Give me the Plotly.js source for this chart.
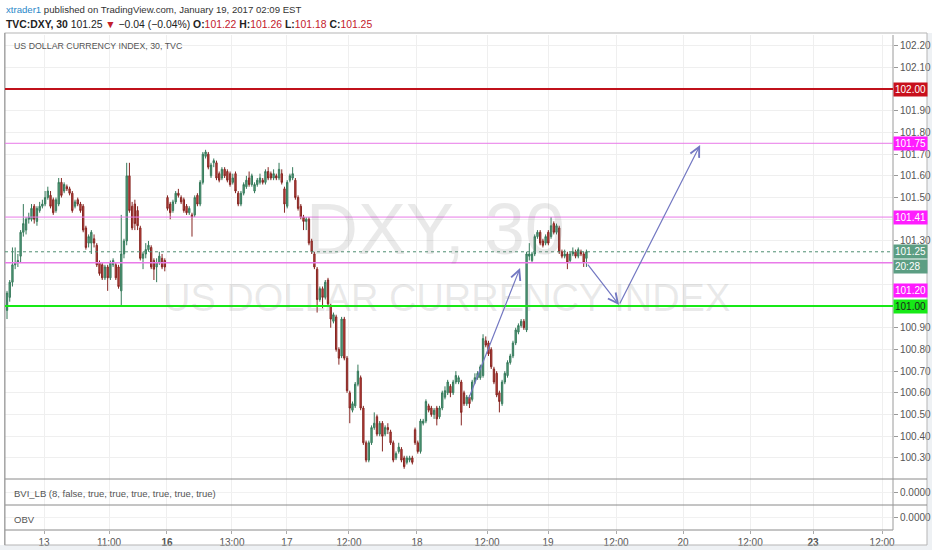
<!DOCTYPE html>
<html><head><meta charset="utf-8">
<script src="https://cdn.plot.ly/plotly-3.0.1.min.js"></script>
<style>html,body{margin:0;padding:0;background:#fff;}#chart{width:932px;height:550px;}</style>
</head><body><div id="chart"></div>
<script>
// ---- data ----
const barOpen = [100.98,101.04,101.11,101.19,101.20,101.23,101.34,101.35,101.40,101.40,
101.46,101.39,101.44,101.46,101.47,101.50,101.51,101.49,101.44,101.47,
101.57,101.53,101.55,101.54,101.52,101.46,101.49,101.47,101.46,101.36,
101.29,101.29,101.31,101.28,101.20,101.19,101.13,101.18,101.13,101.19,
101.19,101.18,101.07,101.24,101.30,101.60,101.46,101.47,101.44,101.36,
101.22,101.24,101.26,101.27,101.21,101.18,101.20,101.22,101.21,101.50,
101.47,101.44,101.48,101.52,101.50,101.49,101.46,101.43,101.42,101.42,
101.51,101.47,101.57,101.69,101.70,101.60,101.66,101.66,101.61,101.59,
101.63,101.62,101.61,101.57,101.61,101.52,101.47,101.52,101.55,101.59,
101.56,101.53,101.56,101.57,101.58,101.57,101.62,101.61,101.59,101.60,
101.59,101.61,101.54,101.46,101.58,101.59,101.58,101.50,101.46,101.41,
101.39,101.40,101.30,101.24,101.17,101.03,101.08,101.04,101.12,101.00,
100.93,100.95,100.80,100.77,100.94,100.76,100.60,100.52,100.54,100.64,
100.67,100.53,100.37,100.29,100.37,100.44,100.49,100.41,100.46,100.41,
100.44,100.42,100.37,100.30,100.33,100.34,100.30,100.28,100.29,100.30,
100.43,100.37,100.33,100.46,100.47,100.54,100.53,100.50,100.53,100.49,
100.53,100.58,100.60,100.63,100.60,100.65,100.65,100.65,100.60,100.55,
100.58,100.57,100.65,100.67,100.67,100.68,100.84,100.83,100.80,100.71,
100.69,100.60,100.55,100.65,100.68,100.74,100.77,100.83,100.88,100.91,
100.93,100.89,101.23,101.21,101.24,101.32,101.34,101.30,101.29,101.34,
101.32,101.38,101.34,101.36,101.25,101.23,101.24,101.21,101.24,101.25,
101.23,101.25,101.24,101.22];
const barHigh = [101.07,101.12,101.27,101.27,101.24,101.35,101.47,101.41,101.43,101.47,
101.47,101.46,101.48,101.49,101.53,101.55,101.53,101.50,101.50,101.59,
101.59,101.57,101.56,101.55,101.53,101.49,101.50,101.48,101.47,101.37,
101.33,101.35,101.33,101.29,101.21,101.20,101.19,101.19,101.21,101.22,
101.20,101.19,101.42,101.31,101.66,101.66,101.48,101.49,101.46,101.37,
101.25,101.29,101.30,101.28,101.22,101.22,101.25,101.24,101.22,101.51,
101.48,101.49,101.53,101.54,101.51,101.50,101.47,101.46,101.43,101.51,
101.52,101.58,101.71,101.72,101.71,101.66,101.68,101.67,101.62,101.64,
101.64,101.63,101.62,101.61,101.62,101.53,101.53,101.57,101.60,101.62,
101.61,101.57,101.59,101.61,101.59,101.63,101.64,101.62,101.63,101.61,
101.66,101.63,101.55,101.58,101.61,101.64,101.59,101.51,101.47,101.42,
101.41,101.41,101.31,101.25,101.18,101.09,101.09,101.12,101.13,101.01,
100.97,100.96,100.81,100.95,100.95,100.77,100.61,100.56,100.65,100.73,
100.68,100.54,100.38,100.38,100.45,100.51,100.50,100.47,100.47,100.45,
100.46,100.43,100.38,100.33,100.37,100.35,100.31,100.31,100.31,100.31,
100.44,100.38,100.48,100.48,100.57,100.55,100.54,100.53,100.54,100.54,
100.61,100.63,100.66,100.64,100.66,100.70,100.68,100.66,100.61,100.59,
100.59,100.66,100.69,100.70,100.73,100.87,100.86,100.84,100.81,100.72,
100.70,100.61,100.66,100.70,100.75,100.78,100.84,100.90,100.92,100.94,
100.94,101.25,101.29,101.25,101.33,101.35,101.35,101.31,101.33,101.35,
101.41,101.39,101.38,101.37,101.26,101.26,101.25,101.25,101.27,101.26,
101.27,101.26,101.25,101.26];
const barLow = [100.94,101.02,101.09,101.17,101.18,101.20,101.32,101.33,101.38,101.39,
101.38,101.37,101.43,101.45,101.46,101.49,101.45,101.42,101.43,101.46,
101.50,101.52,101.53,101.51,101.43,101.45,101.46,101.43,101.34,101.26,
101.27,101.24,101.27,101.18,101.14,101.12,101.12,101.07,101.12,101.18,
101.12,101.08,101.00,101.22,101.28,101.43,101.35,101.35,101.35,101.21,
101.17,101.22,101.25,101.17,101.12,101.11,101.19,101.17,101.16,101.44,
101.40,101.43,101.47,101.50,101.47,101.43,101.42,101.42,101.32,101.41,
101.46,101.46,101.56,101.68,101.63,101.59,101.64,101.58,101.57,101.58,
101.59,101.57,101.55,101.56,101.52,101.46,101.46,101.51,101.54,101.55,
101.55,101.52,101.55,101.56,101.56,101.56,101.58,101.58,101.58,101.58,
101.58,101.56,101.43,101.45,101.57,101.58,101.49,101.44,101.40,101.35,
101.35,101.28,101.24,101.17,100.97,101.02,100.99,101.03,101.00,100.90,
100.92,100.79,100.73,100.76,100.75,100.60,100.46,100.51,100.53,100.63,
100.52,100.36,100.28,100.28,100.36,100.43,100.40,100.40,100.33,100.40,
100.41,100.36,100.28,100.29,100.32,100.28,100.25,100.27,100.28,100.27,
100.36,100.32,100.32,100.45,100.46,100.51,100.49,100.48,100.45,100.48,
100.52,100.57,100.59,100.58,100.59,100.64,100.64,100.45,100.54,100.54,
100.53,100.56,100.64,100.66,100.66,100.67,100.81,100.77,100.71,100.64,
100.58,100.51,100.54,100.64,100.67,100.73,100.76,100.82,100.87,100.90,
100.89,100.88,101.21,101.20,101.23,101.31,101.28,101.27,101.28,101.28,
101.31,101.33,101.33,101.24,101.22,101.22,101.17,101.20,101.23,101.22,
101.22,101.23,101.18,101.18];
const barClose = [101.06,101.11,101.19,101.20,101.21,101.34,101.38,101.40,101.41,101.45,
101.40,101.45,101.46,101.47,101.50,101.53,101.46,101.43,101.49,101.57,
101.51,101.56,101.54,101.52,101.44,101.48,101.47,101.44,101.35,101.27,
101.32,101.34,101.29,101.19,101.15,101.13,101.18,101.13,101.20,101.21,
101.13,101.09,101.24,101.30,101.60,101.44,101.36,101.38,101.37,101.22,
101.24,101.26,101.28,101.18,101.17,101.20,101.23,101.18,101.18,101.45,
101.43,101.48,101.52,101.51,101.48,101.44,101.43,101.45,101.41,101.50,
101.47,101.57,101.70,101.71,101.64,101.65,101.67,101.59,101.58,101.63,
101.60,101.58,101.56,101.59,101.53,101.47,101.52,101.56,101.58,101.56,
101.60,101.56,101.58,101.59,101.57,101.62,101.59,101.59,101.61,101.59,
101.63,101.57,101.47,101.57,101.60,101.61,101.50,101.45,101.41,101.39,
101.40,101.29,101.25,101.18,101.03,101.08,101.04,101.11,101.01,100.94,
100.96,100.80,100.76,100.94,100.76,100.61,100.53,100.55,100.64,100.70,
100.53,100.37,100.29,100.37,100.44,100.46,100.41,100.46,100.40,100.44,
100.43,100.37,100.29,100.32,100.35,100.29,100.26,100.30,100.30,100.28,
100.37,100.33,100.47,100.47,100.56,100.52,100.50,100.52,100.48,100.53,
100.60,100.61,100.65,100.60,100.65,100.68,100.67,100.51,100.55,100.58,
100.55,100.65,100.67,100.69,100.72,100.85,100.82,100.78,100.72,100.65,
100.59,100.56,100.65,100.69,100.74,100.77,100.83,100.89,100.91,100.93,
100.90,101.24,101.24,101.24,101.32,101.34,101.29,101.28,101.32,101.29,
101.37,101.34,101.37,101.25,101.23,101.24,101.20,101.24,101.25,101.23,
101.26,101.24,101.20,101.25];

// x-axis tick labels, placed at bar-number positions
const tickPos  = [13.6, 37.5, 58.8, 82.7, 102.9, 125.7, 150.7, 176.5, 198.9, 223.9, 248.5, 273.2, 296.3, 321.7];
const tickText = ['13','11:00','<b>16</b>','13:00','17','12:00','18','12:00','19','12:00','20','12:00','<b>23</b>','12:00'];
// price-axis labels left visible (the others sit under the level / price boxes)
const priceTicks = [100.30, 100.40, 100.50, 100.60, 100.70, 100.80, 100.90, 101.30, 101.50, 101.60, 101.70, 101.80, 101.90, 102.10, 102.20];

// horizontal levels drawn on the chart
const levelPrices = [102.00, 101.75, 101.41, 101.20, 101.00];
// user-drawn arrows: [bar, price] of tail and head
const arrowFrom = [[169.5, 100.567], [213.1, 101.198], [225.0, 101.005]];
const arrowTo   = [[188.6, 101.175], [225.0, 101.005], [254.8, 101.742]];
const countdownText = '20:28';

// ---- styles ----
const levelLine  = ['#c0111b', '#e97ae9', '#e97ae9', '#e97ae9', '#16e916'];
const levelWidth = [2, 1, 1, 1.5, 2];
const levelBox   = ['#c8101c', '#ff1cff', '#ff1cff', '#ff1cff', '#17ea17'];
const levelText  = ['#ffffff', '#ffffff', '#ffffff', '#ffffff', '#1e1e1e'];
const levelShift = [0, 0, 0, -28, 0];

const FONT = 'Liberation Sans, Arial, sans-serif';
const L = 5, T = 35, PW = 888, PH = 495; // plot area in px (for paper positions of texts)
const px = x => (x - L) / PW;
const py = y => (T + PH - y) / PH;

const n = barClose.length;
const barIndex = barClose.map((_, i) => i);
const last = n - 1;

const traces = [
  {
    type: 'candlestick', x: barIndex, open: barOpen, high: barHigh, low: barLow, close: barClose,
    xaxis: 'x', yaxis: 'y',
    increasing: { line: { color: '#367a5b', width: 1 }, fillcolor: '#5aa382' },
    decreasing: { line: { color: '#862622', width: 1 }, fillcolor: '#c94740' },
    whiskerwidth: 0, hoverinfo: 'skip', showlegend: false
  },
  { type: 'scatter', x: [tickPos[0]], y: [0], xaxis: 'x', yaxis: 'y2', mode: 'markers', marker: { opacity: 0 }, hoverinfo: 'skip', showlegend: false },
  { type: 'scatter', x: [tickPos[0]], y: [0], xaxis: 'x', yaxis: 'y3', mode: 'markers', marker: { opacity: 0 }, hoverinfo: 'skip', showlegend: false }
];

const shapes = [];
const annotations = [];

// outer light strips and frame
shapes.push({ type: 'rect', xref: 'paper', yref: 'paper', x0: px(927), x1: px(940), y0: py(560), y1: py(33), fillcolor: '#eef1f4', line: { width: 0 }, layer: 'below' });
shapes.push({ type: 'rect', xref: 'paper', yref: 'paper', x0: px(-5), x1: px(940), y0: py(560), y1: py(545), fillcolor: '#eef1f4', line: { width: 0 }, layer: 'below' });
shapes.push({ type: 'rect', xref: 'paper', yref: 'paper', x0: px(4.5), x1: px(927), y0: py(545), y1: py(33), line: { color: '#b5b5b5', width: 1 }, fillcolor: 'rgba(0,0,0,0)' });
// pane separators and axis lines
[479, 505].forEach(y => shapes.push({ type: 'line', xref: 'paper', yref: 'paper', x0: px(5), x1: px(927), y0: py(y), y1: py(y), line: { color: '#8a8a8a', width: 1 } }));
shapes.push({ type: 'line', xref: 'paper', yref: 'paper', x0: px(5), x1: 1, y0: 0, y1: 0, line: { color: '#8a8a8a', width: 1 } });
shapes.push({ type: 'line', xref: 'paper', yref: 'paper', x0: 1, x1: 1, y0: 0, y1: 1, line: { color: '#9a9a9a', width: 1 } });
shapes.push({ type: 'line', xref: 'paper', yref: 'paper', x0: px(5), x1: px(5), y0: py(545), y1: py(33), line: { color: '#9a9a9a', width: 1 } });

// levels
levelPrices.forEach((p, i) => {
  shapes.push({ type: 'line', xref: 'paper', yref: 'y', x0: 0, x1: 1, y0: p, y1: p, line: { color: levelLine[i], width: levelWidth[i] } });
  annotations.push({ xref: 'paper', yref: 'y', x: 1, y: p, xanchor: 'left', yanchor: 'middle', yshift: levelShift[i],
    text: p.toFixed(2), showarrow: false, bgcolor: levelBox[i], width: 31, height: 11, borderpad: 1, align: 'left',
    font: { family: FONT, size: 10, color: levelText[i] } });
});

// current price (dotted) + countdown
shapes.push({ type: 'line', xref: 'paper', yref: 'y', x0: 0, x1: 1, y0: barClose[last], y1: barClose[last], line: { color: '#4f8e72', width: 1, dash: 'dot' } });
annotations.push({ xref: 'paper', yref: 'y', x: 1, y: barClose[last], xanchor: 'left', yanchor: 'middle', text: barClose[last].toFixed(2),
  showarrow: false, bgcolor: '#5c9e83', width: 31, height: 11, borderpad: 1, align: 'left', font: { family: FONT, size: 10, color: '#ffffff' } });
annotations.push({ xref: 'paper', yref: 'y', x: 1, y: barClose[last], xanchor: 'left', yanchor: 'middle', yshift: -15, text: countdownText,
  showarrow: false, bgcolor: '#5c9e83', width: 31, height: 11, borderpad: 1, align: 'left', font: { family: FONT, size: 10, color: '#ffffff' } });

// arrows
arrowFrom.forEach((f, i) => {
  annotations.push({ xref: 'x', yref: 'y', axref: 'x', ayref: 'y', x: arrowTo[i][0], y: arrowTo[i][1], ax: f[0], ay: f[1],
    text: '', showarrow: true, arrowhead: 5, arrowsize: 1.6, arrowwidth: 1.2, arrowcolor: '#7378c2', standoff: 0, startstandoff: 0 });
});

// watermark
annotations.push({ xref: 'paper', yref: 'paper', x: px(435), y: py(229), text: 'DXY, 30', showarrow: false, xanchor: 'center', yanchor: 'middle',
  font: { family: FONT, size: 72, color: 'rgba(120,120,120,0.16)' } });
annotations.push({ xref: 'paper', yref: 'paper', x: px(446), y: py(298), text: 'US DOLLAR CURRENCY INDEX', showarrow: false, xanchor: 'center', yanchor: 'middle',
  font: { family: FONT, size: 38, color: 'rgba(120,120,120,0.16)' } });

// header texts
const red = s => `<span style="color:#c3202b">${s}</span>`;
annotations.push({ xref: 'paper', yref: 'paper', x: px(4), y: py(9), xanchor: 'left', yanchor: 'middle', showarrow: false,
  text: '<span style="color:#2a87c8">xtrader1</span> published on TradingView.com, January 19, 2017 02:09 EST',
  font: { family: FONT, size: 9.6, color: '#333333' } });
annotations.push({ xref: 'paper', yref: 'paper', x: px(4), y: py(24), xanchor: 'left', yanchor: 'middle', showarrow: false,
  text: `<b>TVC:DXY, 30</b> ${barClose[last].toFixed(2)} ${red('▼')} −0.04 (−0.04%) <b>O:</b>${red(barOpen[last].toFixed(2))} <b>H:</b>${red(barHigh[last].toFixed(2))} <b>L:</b>${red(barLow[last].toFixed(2))} <b>C:</b>${red(barClose[last].toFixed(2))}`,
  font: { family: FONT, size: 10.4, color: '#222222' } });
annotations.push({ xref: 'paper', yref: 'paper', x: px(12), y: py(46), xanchor: 'left', yanchor: 'middle', showarrow: false,
  text: 'US DOLLAR CURRENCY INDEX, 30, TVC', font: { family: FONT, size: 8.8, color: '#555555' } });
annotations.push({ xref: 'paper', yref: 'paper', x: px(12), y: py(493), xanchor: 'left', yanchor: 'middle', showarrow: false,
  text: 'BVI_LB (8, false, true, true, true, true, true, true)', font: { family: FONT, size: 9.5, color: '#555555' } });
annotations.push({ xref: 'paper', yref: 'paper', x: px(12), y: py(519), xanchor: 'left', yanchor: 'middle', showarrow: false,
  text: 'OBV', font: { family: FONT, size: 9.5, color: '#555555' } });

const paneAxis = (dom) => ({ domain: dom, range: [-1, 1], side: 'right', anchor: 'x', tickvals: [0], ticktext: ['0.0000'],
  showgrid: true, gridcolor: '#f1f1f1', zeroline: false, ticks: 'outside', ticklen: 4, tickcolor: '#999',
  tickfont: { family: FONT, size: 10, color: '#555' }, fixedrange: true });

const layout = {
  width: 932, height: 550,
  margin: { l: L, r: 932 - L - PW, t: T, b: 550 - T - PH, pad: 0 },
  paper_bgcolor: '#ffffff', plot_bgcolor: '#ffffff', showlegend: false,
  xaxis: { anchor: 'y3', range: [-0.74, 325.7], tickvals: tickPos, ticktext: tickText, showgrid: true, gridcolor: '#efefef',
    zeroline: false, showline: false, ticks: 'outside', ticklen: 3, tickcolor: '#aaa',
    tickfont: { family: FONT, size: 10, color: '#555' }, rangeslider: { visible: false }, fixedrange: true },
  yaxis: { domain: [py(479), 1], range: [100.203, 102.249], side: 'right', anchor: 'x', tickvals: priceTicks, tickformat: '.2f',
    showgrid: true, gridcolor: '#efefef', zeroline: false, ticks: 'outside', ticklen: 4, tickcolor: '#999',
    minor: { tick0: 100.3, dtick: 0.1, showgrid: true, gridcolor: '#efefef', ticks: '' },
    tickfont: { family: FONT, size: 10, color: '#555' }, fixedrange: true },
  yaxis2: paneAxis([py(505), py(479)]),
  yaxis3: paneAxis([0, py(505)]),
  shapes: shapes, annotations: annotations
};

Plotly.newPlot('chart', traces, layout, { displayModeBar: false, staticPlot: true });
</script></body></html>
